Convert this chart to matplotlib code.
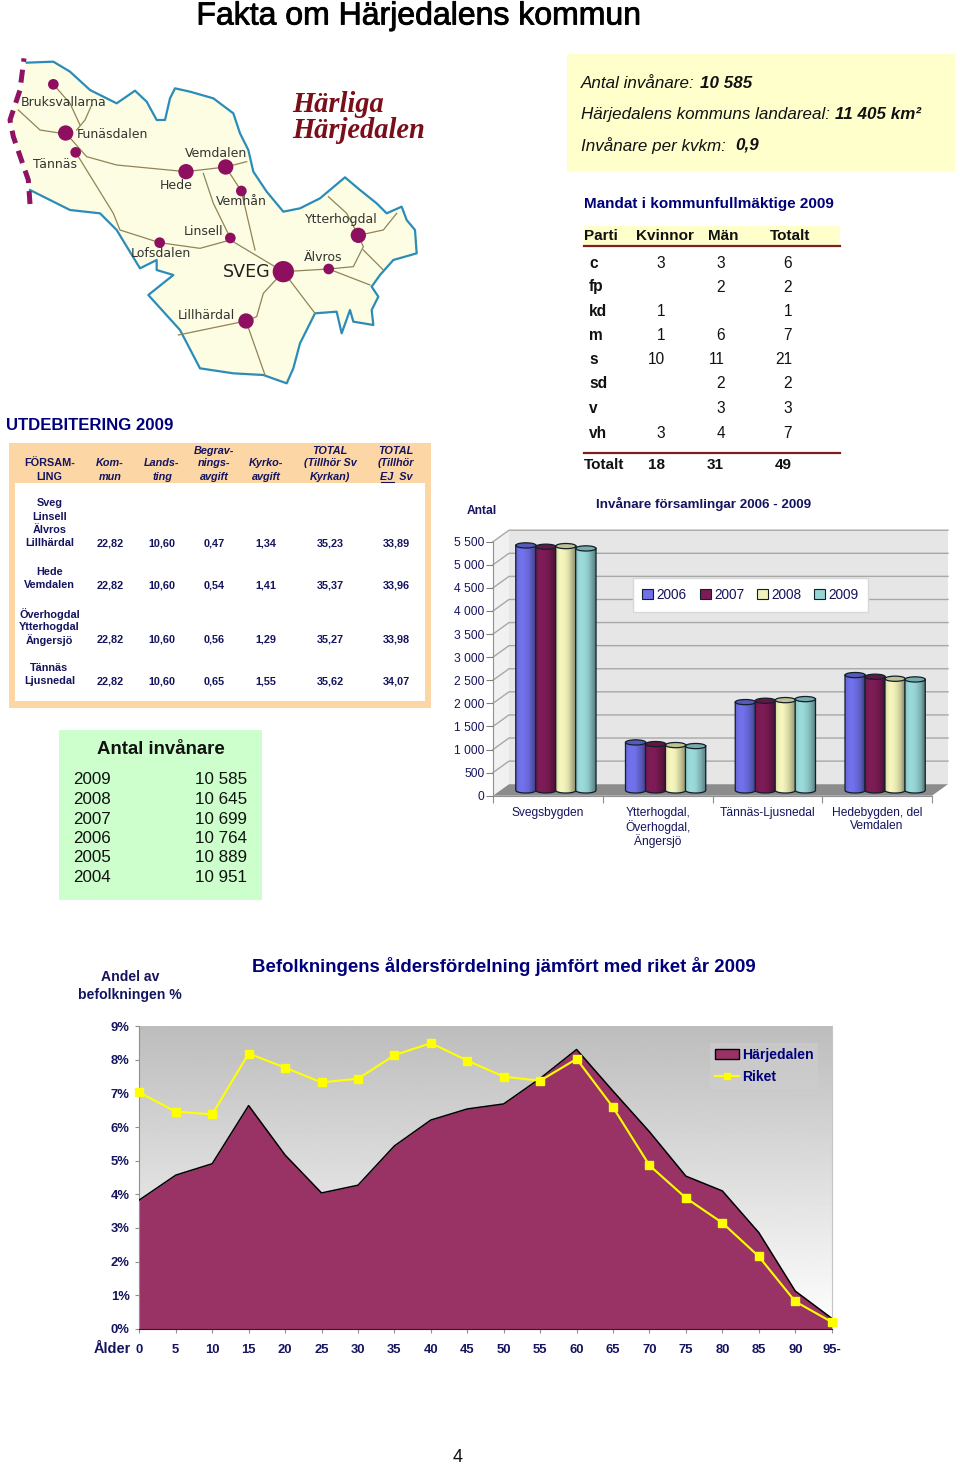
import numpy as np
import matplotlib
matplotlib.use("Agg")
import matplotlib.pyplot as plt
from matplotlib.patches import Rectangle, Polygon, Ellipse, Circle, Patch
from matplotlib.lines import Line2D
from matplotlib.colors import to_rgb
from matplotlib.transforms import IdentityTransform
import matplotlib.patheffects as pe

plt.rcParams['font.family'] = ['Liberation Sans', 'DejaVu Sans']

# ---------------- data ----------------
parishes = ['Svegsbygden', 'Ytterhogdal,\nÖverhogdal,\nÄngersjö', 'Tännäs-Ljusnedal', 'Hedebygden, del\nVemdalen']
years = ['2006', '2007', '2008', '2009']
inv_2006 = [5305, 1039, 1912, 2497]
inv_2007 = [5276, 1003, 1941, 2461]
inv_2008 = [5290, 981, 1955, 2418]
inv_2009 = [5240, 960, 1977, 2403]
inv_ticks = [0, 500, 1000, 1500, 2000, 2500, 3000, 3500, 4000, 4500, 5000, 5500]
inv_tick_labels = ['0', '500', '1 000', '1 500', '2 000', '2 500', '3 000', '3 500', '4 000', '4 500', '5 000', '5 500']

age_labels = ['0', '5', '10', '15', '20', '25', '30', '35', '40', '45', '50', '55', '60', '65', '70', '75', '80', '85', '90', '95-']
harjedalen = [3.83, 4.57, 4.91, 6.64, 5.17, 4.04, 4.27, 5.44, 6.21, 6.54, 6.69, 7.45, 8.31, 7.07, 5.86, 4.54, 4.10, 2.86, 1.12, 0.31]
riket = [7.03, 6.46, 6.38, 8.19, 7.77, 7.33, 7.44, 8.14, 8.50, 7.98, 7.50, 7.38, 8.03, 6.59, 4.86, 3.89, 3.15, 2.15, 0.81, 0.20]

tax_headers = [['FÖRSAM-\nLING'], ['Kom-\nmun'], ['Lands-\nting'], ['Begrav-\nnings-\navgift'], ['Kyrko-\navgift'],
               ['TOTAL\n(Tillhör Sv\nKyrkan)'], ['TOTAL\n(Tillhör\nEJ  Sv']]
tax_places = [['Sveg', 'Linsell', 'Älvros', 'Lillhärdal'], ['Hede', 'Vemdalen'],
              ['Överhogdal', 'Ytterhogdal', 'Ängersjö'], ['Tännäs', 'Ljusnedal']]
tax_values = [['22,82', '10,60', '0,47', '1,34', '35,23', '33,89'],
              ['22,82', '10,60', '0,54', '1,41', '35,37', '33,96'],
              ['22,82', '10,60', '0,56', '1,29', '35,27', '33,98'],
              ['22,82', '10,60', '0,65', '1,55', '35,62', '34,07']]

parties = ['c', 'fp', 'kd', 'm', 's', 'sd', 'v', 'vh']
kvinnor = ['3', '', '1', '1', '10', '', '', '3']
man = ['3', '2', '', '6', '11', '2', '3', '4']
totalt = ['6', '2', '1', '7', '21', '2', '3', '7']
mandat_sum = ['18', '31', '49']

pop_years = ['2009', '2008', '2007', '2006', '2005', '2004']
pop_values = ['10 585', '10 645', '10 699', '10 764', '10 889', '10 951']

# ---------------- canvas ----------------
W, H = 960, 1465
NAVY = '#14145f'
BLUE = '#00007a'
fig = plt.figure(figsize=(W / 100, H / 100), dpi=100, facecolor='white')
ov = fig.add_axes([0, 0, 1, 1], zorder=0)
ov.set_xlim(0, W)
ov.set_ylim(H, 0)
ov.axis('off')


def T(x, y, s, px, color='black', ha='left', weight='normal', style='normal', va='center', **kw):
    return ov.text(x, y, s, fontsize=px * 0.72, color=color, ha=ha, va=va, fontweight=weight, fontstyle=style, **kw)


def rect(x0, y0, x1, y1, color, z=1):
    ov.add_patch(Rectangle((x0, y0), x1 - x0, y1 - y0, fc=color, ec='none', zorder=z))


def rich(x, y, parts, px):
    r = fig.canvas.get_renderer()
    for s, w in parts:
        t = T(x, y, s, px, style='italic', weight=w, zorder=5, color='#111111')
        x = t.get_window_extent(r).x1


t0 = T(419, 16.5, 'Fakta om Härjedalens kommun', 32, ha='center', zorder=5)
t0.set_path_effects([pe.withStroke(linewidth=0.6, foreground='black')])

# ---------------- map ----------------
def M(pts):
    a = np.array(pts, float)
    return np.c_[a[:, 0] / 3, a[:, 1] / 3 + 40]


outline = [(80, 68), (160, 65), (210, 95), (270, 150), (350, 190), (405, 152), (440, 185), (470, 240), (495, 240), (510, 175),
           (525, 145), (570, 155), (640, 175), (700, 220), (720, 280), (745, 330), (760, 395), (800, 455), (850, 515), (900, 505),
           (960, 475), (1035, 412), (1080, 450), (1130, 490), (1160, 520), (1205, 500), (1220, 540), (1245, 570), (1250, 640),
           (1180, 660), (1140, 705), (1115, 740), (1135, 770), (1115, 810), (1120, 855), (1060, 845), (1050, 810), (1025, 880),
           (1010, 815), (945, 820), (900, 910), (880, 985), (860, 1030), (790, 1005), (700, 1000), (600, 985), (540, 870),
           (445, 765), (520, 705), (470, 690), (470, 660), (420, 685), (350, 570), (300, 520), (210, 510), (90, 450)]
border = [(90, 492), (85, 420), (40, 290), (30, 240), (60, 150), (72, 55)]
ov.add_patch(Polygon(M(outline + border[1:-1]), closed=True, fc='#fdfde3', ec='none', zorder=1))
ov.plot(*M(outline).T, color='#2b8cb8', lw=1.6, zorder=2)
ov.plot(*M(border).T, color='#8e1463', lw=3.6, ls=(0, (2.6, 1.6)), zorder=3)
roads = [[(160, 133), (210, 190), (240, 255)], [(275, 195), (255, 240), (230, 270)], [(55, 210), (120, 270), (197, 282)],
         [(197, 279), (260, 350), (350, 375), (558, 395)], [(558, 395), (677, 381), (740, 365)],
         [(610, 400), (640, 490), (691, 594)], [(677, 381), (724, 453), (765, 630)],
         [(227, 337), (340, 520), (360, 570), (479, 608), (600, 625), (691, 600), (850, 695)],
         [(850, 695), (986, 687), (1060, 680), (1090, 620), (1075, 586)], [(1075, 586), (1150, 570), (1190, 520)],
         [(1075, 586), (1040, 520), (985, 470)], [(1090, 630), (1150, 690)], [(986, 687), (1110, 735)],
         [(850, 695), (945, 820)], [(850, 695), (790, 760), (770, 830), (738, 843)], [(738, 843), (535, 885)],
         [(738, 843), (795, 1005)]]
for rd in roads:
    ov.plot(*M(rd).T, color='#8f8458', lw=0.9, zorder=2)
towns = [(160, 133, 16), (197, 279, 23), (227, 337, 16), (558, 395, 23), (677, 381, 23), (724, 453, 16), (691, 594, 16),
         (479, 608, 16), (850, 695, 32), (986, 687, 16), (1075, 586, 23), (738, 843, 23)]
for tx, ty, tr in towns:
    ov.add_patch(Circle((tx / 3, ty / 3 + 40), tr / 3, fc='#8e0f60', ec='none', zorder=3))
town_labels = [('Bruksvallarna', 63, 188), ('Funäsdalen', 230, 284), ('Tännäs', 100, 375), ('Vemdalen', 555, 340), ('Hede', 478, 436),
               ('Vemhån', 648, 484), ('Ytterhogdal', 915, 540), ('Linsell', 551, 575), ('Lofsdalen', 392, 640),
               ('Älvros', 913, 652), ('Lillhärdal', 534, 826)]
for s, lx, ly in town_labels:
    ov.text(lx / 3, ly / 3 + 40, s, fontsize=12.5 * 0.72, family='DejaVu Sans', color='#333333', va='center', zorder=4)
ov.text(668 / 3, 696 / 3 + 40, 'SVEG', fontsize=17.5 * 0.72, family='DejaVu Sans', color='#222222', va='center', zorder=4)
for s, y in (('Härliga', 105), ('Härjedalen', 131)):
    ov.text(292, y, s, fontsize=28.5 * 0.72, family='Liberation Serif', fontweight='bold', fontstyle='italic',
            color='#7a0f1a', va='center', zorder=4)

# ---------------- yellow box ----------------
rect(567, 54, 955, 172, '#ffffcc')
rich(581, 83, [('Antal invånare: ', 'normal'), ('10 585', 'bold')], 17)
rich(581, 114.5, [('Härjedalens kommuns landareal: ', 'normal'), ('11 405 km²', 'bold')], 17)
rich(581, 145.5, [('Invånare per kvkm:  ', 'normal'), ('0,9', 'bold')], 17)

# ---------------- mandate table ----------------
T(584, 204, 'Mandat i kommunfullmäktige 2009', 15.3, color=BLUE, weight='bold', zorder=5)
rect(584, 226, 840, 246, '#ffffcc')
ov.plot([584, 840], [246, 246], color='#7a2222', lw=1.6, zorder=3)
for s, x in (('Parti', 584), ('Kvinnor', 636), ('Män', 708), ('Totalt', 770)):
    T(x, 235.5, s, 15.3, weight='bold', color='#111111', zorder=5)
row_y = [263, 287, 311.5, 336, 360, 384, 408.5, 433]
for y, p, k, m, t in zip(row_y, parties, kvinnor, man, totalt):
    T(589, y, p, 15.5, weight='bold', color='#111111', zorder=5)
    T(665, y, k, 15.5, ha='right', color='#111111', zorder=5)
    T(725, y, m, 15.5, ha='right', color='#111111', zorder=5)
    T(792, y, t, 15.5, ha='right', color='#111111', zorder=5)
ov.plot([584, 840], [453, 453], color='#7a2222', lw=1.6, zorder=3)
T(584, 465, 'Totalt', 15.3, weight='bold', color='#111111', zorder=5)
for s, x in zip(mandat_sum, (665, 724, 792)):
    T(x, 465, s, 15.3, weight='bold', ha='right', color='#111111', zorder=5)

# ---------------- tax table ----------------
T(6, 426, 'UTDEBITERING 2009', 16.8, color=BLUE, weight='bold', zorder=5)
rect(9, 443, 431, 708, '#fdd6a6')
rect(15, 483, 425, 701, 'white', z=2)
col_x = [49.5, 110, 162, 214, 266, 330, 396]
for i, (cx, hd) in enumerate(zip(col_x, tax_headers)):
    lines = hd[0].split('\n')
    for j, ln in enumerate(lines[::-1]):
        T(cx, 476.5 - j * 13, ln, 10.9, color=NAVY, weight='bold', style='normal' if i == 0 else 'italic', ha='center', zorder=5)
ov.plot([381, 394], [482, 482], color=NAVY, lw=0.8, zorder=5)
place_last_y = [543, 585, 640, 681.5]
for ly, places, vals in zip(place_last_y, tax_places, tax_values):
    for j, pl in enumerate(places[::-1]):
        T(49.5, ly - j * 13.2, pl, 10.9, color=NAVY, weight='bold', ha='center', zorder=5)
    for cx, v in zip(col_x[1:], vals):
        T(cx, ly, v, 10.9, color=NAVY, weight='bold', ha='center', zorder=5)

# ---------------- green box ----------------
rect(59, 730, 262, 900, '#ccffcc')
T(161, 749.5, 'Antal invånare', 18.7, weight='bold', ha='center', color='#111111', zorder=5)
for y, a, b in zip([780, 799.5, 819, 838.5, 858, 878], pop_years, pop_values):
    T(73, y, a, 17, color='#111111', zorder=5)
    T(247, y, b, 17, ha='right', color='#111111', zorder=5)

# ---------------- 3D-look bar chart ----------------
x0, x1, ytop, ybot = 493.0, 932.0, 541.7, 795.7
ax = fig.add_axes([x0 / W, 1 - ybot / H, (x1 - x0) / W, (ybot - ytop) / H], zorder=2)
ax.set_xlim(0, 4)
ax.set_ylim(0, 5500)
ax.patch.set_visible(False)
dxw, dyw = 16.0, 11.5
ov.add_patch(Polygon([(x0, ybot), (x0 + dxw, ybot - dyw), (x0 + dxw, ytop - dyw), (x0, ytop)], fc='#f1f1f1', ec='none', zorder=1))
ov.add_patch(Rectangle((x0 + dxw, ytop - dyw), x1 - x0, ybot - ytop, fc='#e6e6e6', ec='none', zorder=1))
ov.add_patch(Polygon([(x0, ybot), (x1, ybot), (x1 + dxw, ybot - dyw), (x0 + dxw, ybot - dyw)], fc='#8c8c8c', ec='none', zorder=2))
for v in inv_ticks[1:]:
    yy = ybot - v / 5500 * (ybot - ytop)
    ov.plot([x0, x0 + dxw, x1 + dxw], [yy, yy - dyw, yy - dyw], color='#a8a8a8', lw=1, zorder=2)

series = [inv_2006, inv_2007, inv_2008, inv_2009]
colors = ['#6f6fe8', '#7c1b55', '#f0f0b8', '#98d6d6']
cat_px = (x1 - x0) / 4
bw = 20.3 / cat_px
x_shift = 8 / cat_px
y_shift = 5.3 / (ybot - ytop) * 5500
e_h = 2.6 / (ybot - ytop) * 5500
n = 22
for si, (vals, col) in enumerate(zip(series, colors)):
    rgb = np.array(to_rgb(col))
    for ci, v in enumerate(vals):
        cx = ci + 0.5 + x_shift + (si - 1.5) * bw * 0.985
        ts = np.linspace(-1, 1, n, endpoint=False) + 1 / n
        curve = e_h * np.sqrt(1 - ts ** 2)
        for t, c in zip(ts, curve):
            f = 1.02 - 0.22 * (t + 0.45) ** 2 if t > -0.45 else 1.02 - 0.5 * (t + 0.45) ** 2
            shade = np.clip(rgb * f, 0, 1)
            ax.bar(cx + t * bw / 2, v, bw / n * 1.03, bottom=y_shift - c, color=shade, lw=0, antialiased=False, zorder=3 + si * 0.01 + ci)
        ax.add_patch(Ellipse((cx, y_shift + v), bw, 2 * e_h, fc=rgb * 0.8, ec='#10202a', lw=0.9, zorder=3.005 + si * 0.01 + ci))
        tt = np.linspace(-1, 1, 40)
        lo = y_shift - e_h * np.sqrt(1 - tt ** 2)
        ax.plot(np.r_[cx - bw / 2, cx + tt * bw / 2, cx + bw / 2], np.r_[y_shift + v, lo, y_shift + v],
                color='#10202a', lw=0.9, zorder=3.006 + si * 0.01 + ci)

ax.set_yticks(inv_ticks, inv_tick_labels)
ax.set_xticks(range(5), [''] * 5)
ax.set_xticks(np.arange(4) + 0.5, parishes, minor=True, linespacing=1.08)
ax.tick_params(axis='y', labelsize=12 * 0.72, labelcolor=NAVY, color='#808080', length=5, pad=1, width=0.8)
ax.tick_params(axis='x', which='major', color='#909090', length=5, width=0.8)
ax.tick_params(axis='x', which='minor', length=0, labelsize=12 * 0.72, labelcolor=NAVY, pad=8)
for sp in ('top', 'right'):
    ax.spines[sp].set_visible(False)
for sp in ('left', 'bottom'):
    ax.spines[sp].set_color('#909090')
    ax.spines[sp].set_linewidth(0.8)
ax.set_xlim(0, 4)
ax.set_ylim(0, 5500)
handles = [Patch(fc=c, ec='#10202a', lw=0.8, label=y) for c, y in zip(colors, years)]
ax.legend(handles=handles, ncol=4, loc='center', bbox_to_anchor=(750.5, H - 595), bbox_transform=IdentityTransform(),
          fontsize=13.6 * 0.72, labelcolor=NAVY, frameon=True, fancybox=False, facecolor='white', edgecolor='#d8d8d8',
          handlelength=0.8, handleheight=0.8, handletextpad=0.25, columnspacing=0.95, borderpad=0.7,
          framealpha=1).set_zorder(20)
T(704, 503.5, 'Invånare församlingar 2006 - 2009', 13.4, color=NAVY, weight='bold', ha='center', zorder=5)
T(482, 511, 'Antal', 12, color=NAVY, weight='bold', ha='center', zorder=5)

# ---------------- area chart ----------------
ax0, ax1, aytop, aybot = 139.3, 831.7, 1026.3, 1328.7
a2 = fig.add_axes([ax0 / W, 1 - aybot / H, (ax1 - ax0) / W, (aybot - aytop) / H], zorder=2)
xs = np.arange(len(age_labels))
grad = np.linspace(0.74, 1.0, 256)[:, None]
a2.imshow(grad, cmap='gray', vmin=0, vmax=1, extent=(0, 19, 0, 9), aspect='auto', origin='upper', zorder=0)
a2.fill_between(xs, harjedalen, 0, color='#993366', lw=0, zorder=2)
a2.plot(xs, harjedalen, color='black', lw=1.1, zorder=3)
a2.plot(xs, riket, color='#ffff00', lw=1.5, marker='s', ms=5.2, mec='#ffff00', mfc='#ffff00', zorder=4, clip_on=False)
a2.set_xlim(0, 19)
a2.set_ylim(0, 9)
a2.set_yticks(range(10), [f'{i}%' for i in range(10)])
a2.set_xticks(xs, age_labels)
a2.tick_params(axis='y', labelsize=13 * 0.72, labelcolor=NAVY, color='#909090', length=3, pad=4, width=0.8)
a2.tick_params(axis='x', labelsize=13 * 0.72, labelcolor=NAVY, color='#909090', length=3, pad=8, width=0.8)
for lb in a2.get_xticklabels() + a2.get_yticklabels():
    lb.set_fontweight('bold')
a2.spines['top'].set_visible(False)
a2.spines['right'].set_color('#c4c4c4')
a2.spines['left'].set_color('#909090')
a2.spines['bottom'].set_color('#222222')
lh = [Patch(fc='#993366', ec='black', lw=1, label='Härjedalen'),
      Line2D([], [], color='#ffff00', lw=1.5, marker='s', ms=5, label='Riket')]
lg = a2.legend(handles=lh, loc='center', bbox_to_anchor=(764, H - 1066), bbox_transform=IdentityTransform(),
               frameon=True, facecolor='#cfcfcf', edgecolor='none', framealpha=0.55, fancybox=False,
               handlelength=1.75, handletextpad=0.2, borderpad=0.35, labelspacing=0.55, prop={'size': 14 * 0.72, 'weight': 'bold'},
               labelcolor=BLUE)
T(112, 1349, 'Ålder', 14.5, color=NAVY, weight='bold', ha='center', zorder=5)
T(252, 966, 'Befolkningens åldersfördelning jämfört med riket år 2009', 18.6, color=BLUE, weight='bold', zorder=5)
T(130, 977, 'Andel av', 14, color=NAVY, weight='bold', ha='center', zorder=5)
T(130, 994.5, 'befolkningen %', 14, color=NAVY, weight='bold', ha='center', zorder=5)
T(458, 1458, '4', 18, color='#111111', ha='center', zorder=5)

fig.savefig('out.png', dpi=100, facecolor='white')
